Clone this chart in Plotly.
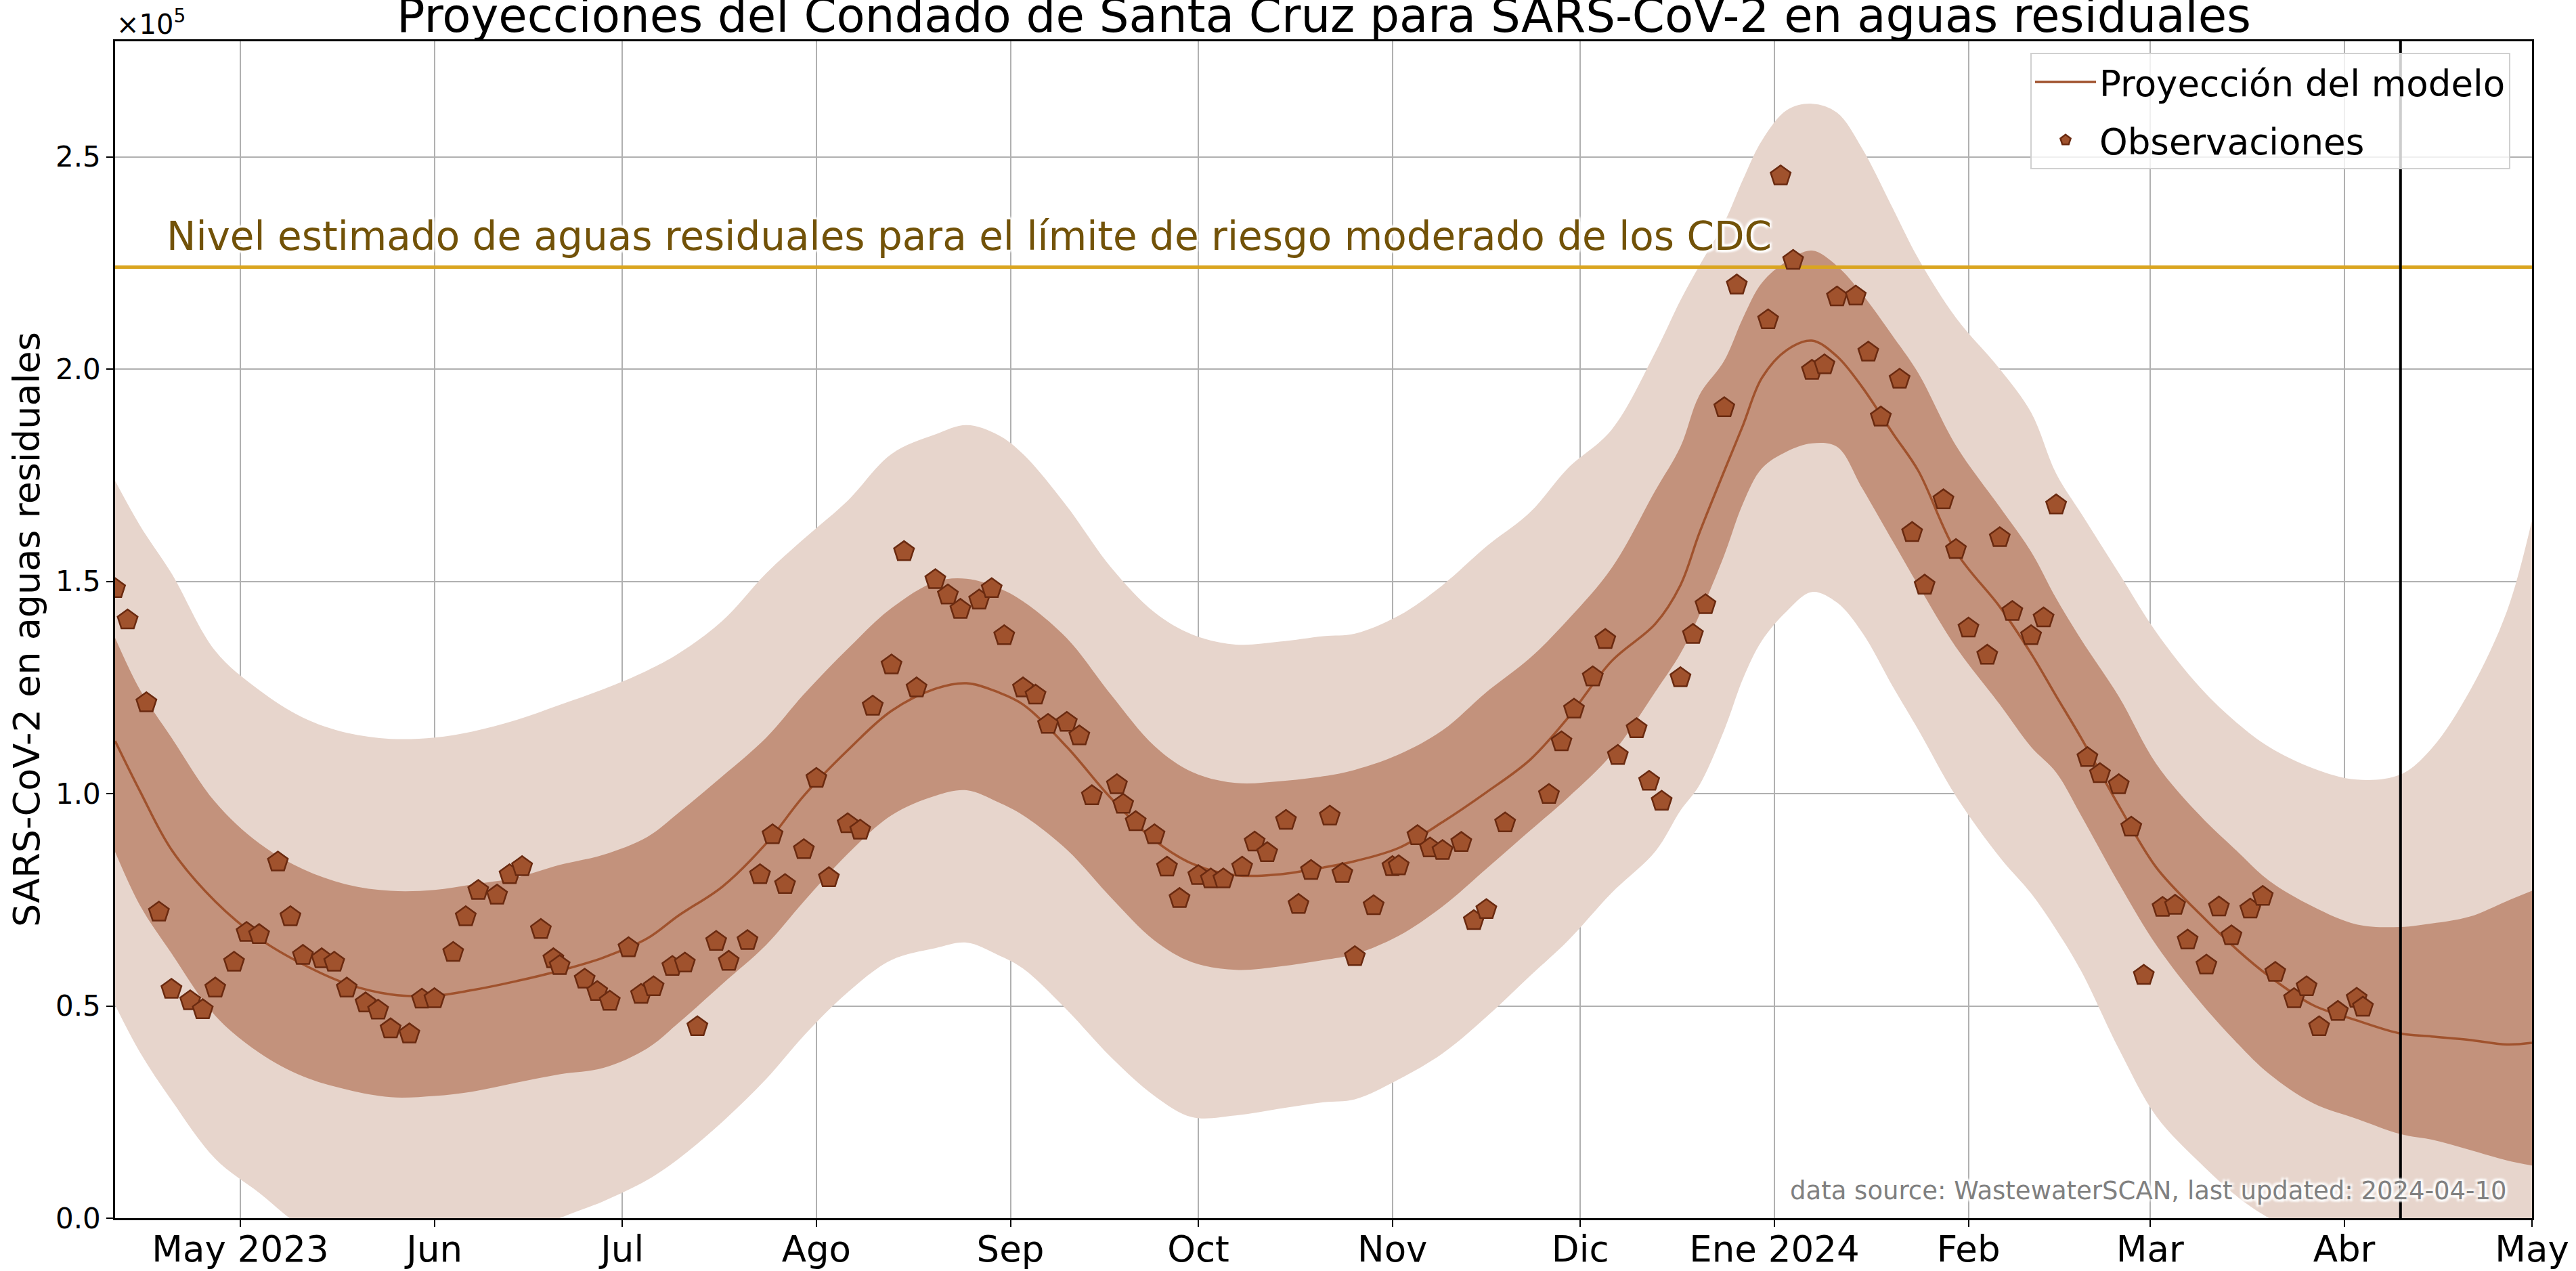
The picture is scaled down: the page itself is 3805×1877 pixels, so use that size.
import plotly.graph_objects as go

# ---------------- data (values in units of 1e5) ----------------
band_dates = [
    "2023-04-11", "2023-04-15", "2023-04-20", "2023-04-27", "2023-05-04",
    "2023-05-11", "2023-05-18", "2023-05-25", "2023-06-01", "2023-06-07",
    "2023-06-14", "2023-06-21", "2023-06-28", "2023-07-05", "2023-07-10",
    "2023-07-17", "2023-07-24", "2023-07-30", "2023-08-06", "2023-08-13",
    "2023-08-20", "2023-08-25", "2023-08-30", "2023-09-03", "2023-09-10",
    "2023-09-17", "2023-09-24", "2023-09-30", "2023-10-07", "2023-10-14",
    "2023-10-21", "2023-10-26", "2023-11-02", "2023-11-09", "2023-11-16",
    "2023-11-23", "2023-11-29", "2023-12-06", "2023-12-13", "2023-12-17",
    "2023-12-20", "2023-12-24", "2023-12-27", "2023-12-30", "2024-01-03",
    "2024-01-07", "2024-01-11", "2024-01-15", "2024-01-20", "2024-01-24",
    "2024-01-30", "2024-02-06", "2024-02-11", "2024-02-15", "2024-02-19",
    "2024-02-25", "2024-03-02", "2024-03-09", "2024-03-15", "2024-03-20",
    "2024-03-27", "2024-04-03", "2024-04-10", "2024-04-15", "2024-04-21",
    "2024-04-27", "2024-05-01",
]
model_proj = [
    1.124, 1.005, 0.868, 0.746, 0.659, 0.598, 0.552, 0.527, 0.524, 0.537,
    0.558, 0.583, 0.614, 0.659, 0.713, 0.781, 0.883, 0.995, 1.102, 1.195,
    1.247, 1.260, 1.239, 1.21, 1.11, 0.99, 0.89, 0.835, 0.808, 0.81,
    0.826, 0.841, 0.872, 0.933, 1.003, 1.080, 1.178, 1.312, 1.40, 1.491,
    1.613, 1.76, 1.868, 1.979, 2.045, 2.067, 2.030, 1.958, 1.847, 1.76,
    1.57, 1.44, 1.33, 1.23, 1.131, 0.972, 0.826, 0.716, 0.631, 0.57,
    0.502, 0.466, 0.435, 0.428, 0.42, 0.409, 0.413,
]
inner_lo = [
    0.863, 0.736, 0.624, 0.477, 0.390, 0.334, 0.303, 0.285, 0.288, 0.298,
    0.319, 0.339, 0.354, 0.400, 0.46, 0.552, 0.644, 0.746, 0.858, 0.949,
    0.995, 1.008, 0.98, 0.949, 0.868, 0.756, 0.654, 0.603, 0.585, 0.593,
    0.608, 0.622, 0.665, 0.734, 0.823, 0.913, 0.990, 1.092, 1.24, 1.33,
    1.42, 1.562, 1.684, 1.766, 1.806, 1.825, 1.817, 1.72, 1.592, 1.49,
    1.345, 1.21, 1.11, 1.05, 0.948, 0.789, 0.643, 0.509, 0.411, 0.34,
    0.271, 0.234, 0.198, 0.185, 0.161, 0.136, 0.124,
]
inner_hi = [
    1.367, 1.244, 1.132, 0.980, 0.883, 0.822, 0.786, 0.771, 0.773, 0.786,
    0.802, 0.832, 0.856, 0.898, 0.955, 1.041, 1.132, 1.234, 1.341, 1.437,
    1.499, 1.506, 1.485, 1.453, 1.366, 1.234, 1.112, 1.051, 1.025, 1.029,
    1.041, 1.056, 1.092, 1.149, 1.239, 1.320, 1.409, 1.531, 1.714, 1.817,
    1.938, 2.020, 2.121, 2.203, 2.254, 2.279, 2.243, 2.177, 2.076, 1.99,
    1.82, 1.675, 1.57, 1.46, 1.363, 1.229, 1.070, 0.948, 0.863, 0.795,
    0.734, 0.692, 0.686, 0.694, 0.710, 0.747, 0.771,
]
outer_lo = [
    0.502, 0.39, 0.278, 0.14, 0.06, -0.02, -0.05, -0.05, -0.05, -0.05,
    -0.05, 0.0, 0.04, 0.09, 0.14, 0.227, 0.328, 0.43, 0.532, 0.608,
    0.636, 0.649, 0.62, 0.588, 0.491, 0.380, 0.288, 0.238, 0.242, 0.258,
    0.273, 0.28, 0.327, 0.388, 0.474, 0.571, 0.653, 0.766, 0.864, 0.96,
    1.019, 1.15, 1.271, 1.36, 1.43, 1.475, 1.45, 1.38, 1.25, 1.15,
    0.994, 0.85, 0.765, 0.68, 0.582, 0.399, 0.240, 0.13, 0.05, 0.0,
    -0.05, -0.08, -0.1, -0.1, -0.1, -0.1, -0.1,
]
outer_hi = [
    1.737, 1.631, 1.519, 1.336, 1.244, 1.179, 1.143, 1.129, 1.132, 1.146,
    1.173, 1.209, 1.246, 1.290, 1.33, 1.407, 1.519, 1.60, 1.69, 1.80,
    1.846, 1.868, 1.845, 1.80, 1.677, 1.534, 1.427, 1.375, 1.351, 1.358,
    1.371, 1.377, 1.419, 1.491, 1.582, 1.663, 1.766, 1.857, 2.040, 2.162,
    2.243, 2.345, 2.447, 2.538, 2.610, 2.625, 2.604, 2.52, 2.376, 2.26,
    2.121, 2.000, 1.898, 1.754, 1.66, 1.52, 1.38, 1.25, 1.165, 1.11,
    1.06, 1.033, 1.045, 1.107, 1.24, 1.43, 1.644,
]

obs_dates = [
    "2023-04-11", "2023-04-13", "2023-04-16", "2023-04-18", "2023-04-20", "2023-04-23",
    "2023-04-25", "2023-04-27", "2023-04-30", "2023-05-02", "2023-05-04", "2023-05-07",
    "2023-05-09", "2023-05-11", "2023-05-14", "2023-05-16", "2023-05-18", "2023-05-21",
    "2023-05-23", "2023-05-25", "2023-05-28", "2023-05-30", "2023-06-01", "2023-06-04",
    "2023-06-06", "2023-06-08", "2023-06-11", "2023-06-13", "2023-06-15", "2023-06-18",
    "2023-06-20", "2023-06-21", "2023-06-25", "2023-06-27", "2023-06-29", "2023-07-02",
    "2023-07-04", "2023-07-06", "2023-07-09", "2023-07-11", "2023-07-13", "2023-07-16",
    "2023-07-18", "2023-07-21", "2023-07-23", "2023-07-25", "2023-07-27", "2023-07-30",
    "2023-08-01", "2023-08-03", "2023-08-06", "2023-08-08", "2023-08-10", "2023-08-13",
    "2023-08-15", "2023-08-17", "2023-08-20", "2023-08-22", "2023-08-24", "2023-08-27",
    "2023-08-29", "2023-08-31", "2023-09-03", "2023-09-05", "2023-09-07", "2023-09-10",
    "2023-09-12", "2023-09-14", "2023-09-18", "2023-09-19", "2023-09-21", "2023-09-24",
    "2023-09-26", "2023-09-28", "2023-10-01", "2023-10-03", "2023-10-05", "2023-10-08",
    "2023-10-10", "2023-10-12", "2023-10-15", "2023-10-17", "2023-10-19", "2023-10-22",
    "2023-10-24", "2023-10-26", "2023-10-29", "2023-11-01", "2023-11-02", "2023-11-05",
    "2023-11-07", "2023-11-09", "2023-11-12", "2023-11-14", "2023-11-16", "2023-11-19",
    "2023-11-26", "2023-11-28", "2023-11-30", "2023-12-03", "2023-12-05", "2023-12-07",
    "2023-12-10", "2023-12-12", "2023-12-14", "2023-12-17", "2023-12-19", "2023-12-21",
    "2023-12-24", "2023-12-26", "2023-12-31", "2024-01-02", "2024-01-04", "2024-01-07",
    "2024-01-09", "2024-01-11", "2024-01-14", "2024-01-16", "2024-01-18", "2024-01-21",
    "2024-01-23", "2024-01-25", "2024-01-28", "2024-01-30", "2024-02-01", "2024-02-04",
    "2024-02-06", "2024-02-08", "2024-02-11", "2024-02-13", "2024-02-15", "2024-02-20",
    "2024-02-22", "2024-02-25", "2024-02-27", "2024-02-29", "2024-03-03", "2024-03-05",
    "2024-03-07", "2024-03-10", "2024-03-12", "2024-03-14", "2024-03-17", "2024-03-19",
    "2024-03-21", "2024-03-24", "2024-03-26", "2024-03-28", "2024-03-31", "2024-04-03",
    "2024-04-04",
]
obs_values = [
    1.483, 1.409, 1.214, 0.721, 0.539, 0.512,
    0.491, 0.542, 0.603, 0.673, 0.668, 0.839,
    0.710, 0.619, 0.611, 0.603, 0.542, 0.507,
    0.490, 0.446, 0.434, 0.516, 0.517, 0.626,
    0.710, 0.772, 0.761, 0.809, 0.828, 0.680,
    0.611, 0.595, 0.563, 0.534, 0.511, 0.637,
    0.527, 0.545, 0.593, 0.601, 0.451, 0.652,
    0.605, 0.654, 0.809, 0.903, 0.786, 0.868,
    1.036, 0.802, 0.929, 0.914, 1.206, 1.303,
    1.570, 1.249, 1.504, 1.468, 1.434, 1.456,
    1.483, 1.372, 1.249, 1.232, 1.163, 1.168,
    1.136, 0.995, 1.021, 0.975, 0.934, 0.903,
    0.827, 0.753, 0.807, 0.799, 0.799, 0.827,
    0.886, 0.861, 0.937, 0.739, 0.819, 0.947,
    0.812, 0.616, 0.736, 0.828, 0.830, 0.901,
    0.872, 0.866, 0.885, 0.701, 0.727, 0.931,
    0.998, 1.122, 1.199, 1.275, 1.363, 1.090,
    1.153, 1.029, 0.982, 1.273, 1.375, 1.445,
    1.909, 2.198, 2.116, 2.455, 2.256, 1.997,
    2.010, 2.170, 2.172, 2.040, 1.887, 1.976,
    1.615, 1.491, 1.692, 1.575, 1.390, 1.326,
    1.603, 1.429, 1.372, 1.414, 1.680, 1.085,
    1.047, 1.021, 0.921, 0.572, 0.732, 0.737,
    0.655, 0.596, 0.733, 0.665, 0.728, 0.758,
    0.579, 0.517, 0.545, 0.451, 0.487, 0.518,
    0.497,
]

cdc_level = 2.24
last_updated = "2024-04-10"
x_start, x_end = "2023-04-11", "2024-05-01"
y_top = 2.772

month_ticks = ["2023-05-01", "2023-06-01", "2023-07-01", "2023-08-01", "2023-09-01",
               "2023-10-01", "2023-11-01", "2023-12-01", "2024-01-01", "2024-02-01",
               "2024-03-01", "2024-04-01", "2024-05-01"]
month_labels = ["May 2023", "Jun", "Jul", "Ago", "Sep", "Oct", "Nov", "Dic",
                "Ene 2024", "Feb", "Mar", "Abr", "May"]
y_ticks = [0.0, 0.5, 1.0, 1.5, 2.0, 2.5]
y_labels = ["0.0", "0.5", "1.0", "1.5", "2.0", "2.5"]

# ---------------- styling ----------------
FONT = "DejaVu Sans"
SIENNA = "#A0522D"
OUTER_FILL = "#E7D5CC"
INNER_FILL = "#C3927C"

fig = go.Figure()

fig.add_trace(go.Scatter(x=band_dates, y=outer_hi, mode="lines", line=dict(width=0, shape="spline"),
                         showlegend=False, hoverinfo="skip"))
fig.add_trace(go.Scatter(x=band_dates, y=outer_lo, mode="lines", line=dict(width=0, shape="spline"),
                         fill="tonexty", fillcolor=OUTER_FILL, showlegend=False, hoverinfo="skip"))
fig.add_trace(go.Scatter(x=band_dates, y=inner_hi, mode="lines", line=dict(width=0, shape="spline"),
                         showlegend=False, hoverinfo="skip"))
fig.add_trace(go.Scatter(x=band_dates, y=inner_lo, mode="lines", line=dict(width=0, shape="spline"),
                         fill="tonexty", fillcolor=INNER_FILL, showlegend=False, hoverinfo="skip"))
fig.add_trace(go.Scatter(x=band_dates, y=model_proj, mode="lines",
                         line=dict(color=SIENNA, width=3.5, shape="spline"),
                         name="Proyección del modelo", legendgroup="a", legendrank=1))
fig.add_trace(go.Scatter(x=[x_start, x_end], y=[cdc_level, cdc_level], mode="lines",
                         line=dict(color="#DAA520", width=5), showlegend=False, hoverinfo="skip"))
fig.add_trace(go.Scatter(x=obs_dates, y=obs_values, mode="markers", name="Observaciones",
                         legendgroup="b", legendrank=2,
                         marker=dict(symbol="pentagon", size=31, color=SIENNA,
                                     line=dict(color="#6A2A10", width=2.5))))

fig.add_shape(type="line", xref="x", yref="paper", x0=last_updated, x1=last_updated,
              y0=0, y1=1, line=dict(color="black", width=4), layer="above")

halo = "3px 3px 3px white, -3px -3px 3px white, 3px -3px 3px white, -3px 3px 3px white"

fig.add_annotation(text="Nivel estimado de aguas residuales para el límite de riesgo moderado de los CDC",
                   xref="x", yref="y", x="2023-04-19", y=cdc_level, xanchor="left", yanchor="bottom",
                   yshift=10, showarrow=False,
                   font=dict(family=FONT, size=58, color="#725208", shadow=halo))
fig.add_annotation(text="data source: WastewaterSCAN, last updated: 2024-04-10",
                   xref="paper", yref="paper", x=(3705 - 170) / 3570, y=(1799 - 1782) / 1738,
                   xanchor="right", yanchor="bottom", showarrow=False,
                   font=dict(family=FONT, size=37, color="#808080", shadow=halo))
fig.add_annotation(text="Proyecciones del Condado de Santa Cruz para SARS-CoV-2 en aguas residuales",
                   xref="paper", yref="paper", x=0.5, y=1, xanchor="center", yanchor="bottom",
                   yshift=-4, showarrow=False, font=dict(family=FONT, size=69, color="black"))
fig.add_annotation(text="×10<sup>5</sup>", xref="paper", yref="paper", x=0, y=1,
                   xanchor="left", yanchor="bottom", showarrow=False,
                   font=dict(family=FONT, size=40, color="black"))
fig.add_annotation(text="SARS-CoV-2 en aguas residuales", xref="paper", yref="paper",
                   x=(39 - 170) / 3570, y=0.5, xanchor="center", yanchor="middle", textangle=-90,
                   showarrow=False, font=dict(family=FONT, size=54, color="black"))

fig.update_layout(
    width=3805, height=1877,
    margin=dict(l=170, r=65, t=61, b=78, autoexpand=False),
    paper_bgcolor="white", plot_bgcolor="white",
    font=dict(family=FONT, color="black"),
    hovermode=False,
    legend=dict(x=(3708 - 170) / 3570, y=(1799 - 78) / 1738, xanchor="right", yanchor="top",
                traceorder="grouped", tracegroupgap=14, itemwidth=90,
                bgcolor="rgba(255,255,255,0.8)", bordercolor="#d0d0d0", borderwidth=2,
                font=dict(family=FONT, size=53, color="black")),
)
fig.update_xaxes(type="date", range=[x_start, x_end], tickvals=month_ticks, ticktext=month_labels,
                 tickfont=dict(family=FONT, size=53), ticks="outside", ticklen=10, tickwidth=2,
                 ticklabelstandoff=-12,
                 tickcolor="black", showgrid=True, gridcolor="#b0b0b0", gridwidth=2, automargin=False,
                 showline=True, linecolor="black", linewidth=2.5, mirror=True, zeroline=False)
fig.update_yaxes(range=[0, y_top], tickvals=y_ticks, ticktext=y_labels,
                 tickfont=dict(family=FONT, size=42), ticks="outside", ticklen=10, tickwidth=2,
                 tickcolor="black", showgrid=True, gridcolor="#b0b0b0", gridwidth=2, automargin=False,
                 showline=True, linecolor="black", linewidth=2.5, mirror=True, zeroline=False)

fig.write_html("out.html", config={"displayModeBar": False},
               post_script="document.body.style.margin='0';document.body.style.overflow='hidden';")
